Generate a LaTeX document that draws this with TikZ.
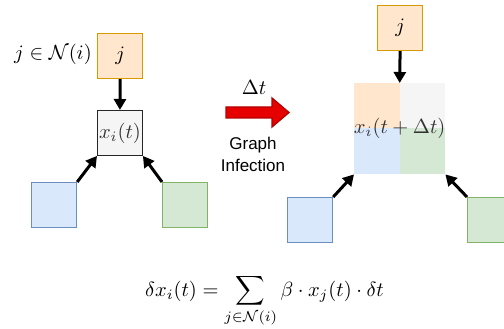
\documentclass[tikz,border=0pt]{standalone}
\usepackage{graphicx}
\usepackage{fontspec}
\newfontfamily\libsans{Liberation Sans}
\usetikzlibrary{arrows.meta}
\definecolor{orfill}{HTML}{FFE6CC}
\definecolor{ordraw}{HTML}{D79B00}
\definecolor{blfill}{HTML}{DAE8FC}
\definecolor{bldraw}{HTML}{6C8EBF}
\definecolor{grfill}{HTML}{D5E8D4}
\definecolor{grdraw}{HTML}{82B366}
\definecolor{gyfill}{HTML}{F5F5F5}
\definecolor{txtgray}{HTML}{333333}
\definecolor{redfill}{HTML}{E60000}
\definecolor{reddraw}{HTML}{B20000}
\newcommand{\bigmath}[1]{\scalebox{2.05}{#1}}
\tikzset{
  sqbox/.style={draw, line width=1.2pt, minimum width=45pt, minimum height=45pt, inner sep=0pt, anchor=north west},
  orbox/.style={sqbox, fill=orfill, draw=ordraw},
  blbox/.style={sqbox, fill=blfill, draw=bldraw},
  grbox/.style={sqbox, fill=grfill, draw=grdraw},
  gybox/.style={sqbox, fill=gyfill, draw=black!85, line width=0.9pt},
  arr/.style={line width=3pt, -{Triangle[length=11pt,width=12pt]}},
}
\begin{document}
\begin{tikzpicture}[x=1pt,y=-1pt]
\useasboundingbox (0,0) rectangle (504,329);
% left graph
\node[orbox] (j1) at (97,33) {\bigmath{$j$}};
\node[gybox, text=txtgray] (x1) at (97,110) {\bigmath{$x_i(t)$}};
\node[blbox] (b1) at (31,182) {};
\node[grbox] (g1) at (162,182) {};
\node[anchor=center] (lab) at (53,54) {\bigmath{$j\in\mathcal{N}(i)$}};
\draw[arr] (j1.south) -- (x1.north);
\draw[arr] (b1.north east) -- (x1.south west);
\draw[arr] (g1.north west) -- (x1.south east);
% red arrow
\node (dt) at (254,87) {\bigmath{$\Delta t$}};
\draw[fill=redfill, draw=reddraw, line width=1.3pt, line join=miter]
  (226,107) -- (272,107) -- (272,98) -- (289,112.5) -- (272,127) -- (272,118) -- (226,118) -- cycle;
\node[font=\libsans\fontsize{17}{22}\selectfont, align=center] (gi) at (253,154) {Graph\\Infection};
% right graph
\fill[orfill] (354,83) rectangle (400,128.5);
\fill[gyfill] (400,83) rectangle (445,128.5);
\fill[blfill] (354,128.5) rectangle (400,174);
\fill[grfill] (400,128.5) rectangle (445,174);
\node[minimum width=91pt, minimum height=91pt, inner sep=0pt, anchor=north west] (x2) at (354,83) {};
\node[text=txtgray] (x2t) at (x2.center) {\bigmath{$x_i(t+\Delta t)$}};
\node[orbox] (j2) at (377,5) {\bigmath{$j$}};
\node[blbox] (b2) at (287,197) {};
\node[grbox] (g2) at (467,197) {};
\draw[arr] (j2.south) -- (x2.north);
\draw[arr] (b2.north east) -- (x2.south west);
\draw[arr] (g2.north west) -- (x2.south east);
% formula
\node[anchor=base] (f) at (264.5,296) {\bigmath{$\displaystyle \delta x_i(t) = \sum_{j\in\mathcal{N}(i)} \beta\cdot x_j(t)\cdot \delta t$}};
\end{tikzpicture}
\end{document}
